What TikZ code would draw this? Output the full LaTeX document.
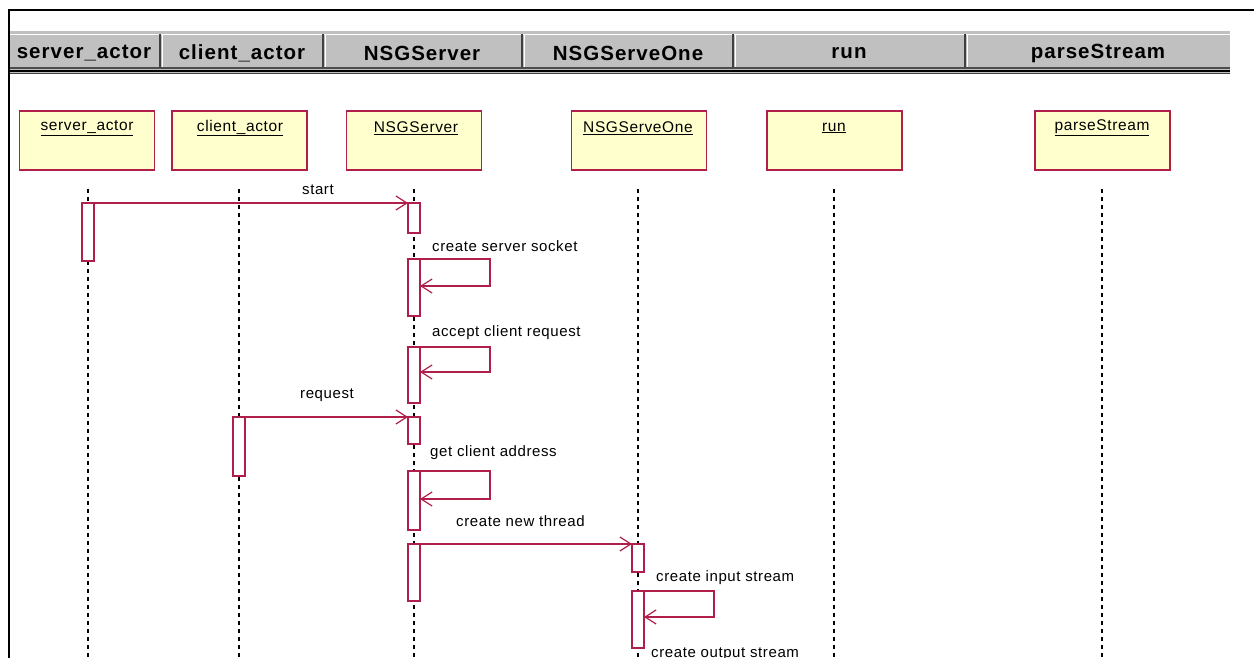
\documentclass[tikz,border=0pt]{standalone}
\usepackage{fontspec}
\setmainfont{Liberation Sans}
\newfontfamily\hdrfont[LetterSpace=5]{Liberation Sans}
\newfontfamily\lblfont[LetterSpace=4]{Liberation Sans}
\usetikzlibrary{arrows.meta}
\definecolor{crim}{RGB}{176,30,74}
\definecolor{boxfill}{RGB}{255,255,206}
\definecolor{hdrgray}{RGB}{192,192,192}
\tikzset{
  objbox/.style={draw=crim, line width=1.5pt, fill=boxfill, minimum width=135pt, minimum height=59pt, inner sep=0pt, outer sep=0pt},
  objlbl/.style={font=\lblfont\fontsize{15.5}{17}\selectfont, inner sep=0pt},
  hdrlbl/.style={font=\hdrfont\bfseries\fontsize{20.5}{24}\selectfont, inner sep=0pt},
  lifeline/.style={draw=black, line width=1.5pt, dash pattern=on 4pt off 4pt},
  act/.style={draw=crim, line width=1.3pt, fill=white, minimum width=12pt, inner sep=0pt, outer sep=0pt, anchor=north},
  msg/.style={draw=crim, line width=1.2pt, -{Straight Barb[length=11pt,width=14pt,line width=1.2pt]}},
  lbl/.style={font=\lblfont\fontsize{15}{17}\selectfont, inner sep=0pt, anchor=west},
}
\begin{document}
\begin{tikzpicture}[x=1pt,y=-1pt]
\useasboundingbox (0,0) rectangle (1254,658);
\clip (0,0) rectangle (1254,658);
\fill[white] (0,0) rectangle (1254,658);
% frame
\draw[line width=2.2pt] (9,658) -- (9,10) -- (1254,10);
% header bar
\fill[hdrgray] (10,31) rectangle (1230,74);
\draw[white, line width=1pt] (10,35) -- (1230,35);
\draw[gray!60!black, line width=1.5pt] (10,68) -- (1230,68);
\draw[black, line width=2pt] (10,71) -- (1230,71);
\draw[gray!50!black, line width=1pt] (10,73.5) -- (1230,73.5);
\foreach \xd in {160,323,522,733,965}{
  \draw[black!75, line width=1.3pt] (\xd,34) -- (\xd,67);
  \draw[white, line width=1pt] (\xd+2,35) -- (\xd+2,67);
}
\node[hdrlbl] (h1) at (84,53) {server\_actor};
\node[hdrlbl] (h2) at (242,53) {client\_actor};
\node[hdrlbl] (h3) at (422,53) {NSGServer};
\node[hdrlbl] (h4) at (628,53) {NSGServeOne};
\node[hdrlbl] (h5) at (849,53) {run};
\node[hdrlbl] (h6) at (1098,53) {parseStream};
% object boxes
\node[objbox] (o1) at (87,140.5) {};
\node[objbox] (o2) at (239.5,140.5) {};
\node[objbox] (o3) at (414,140.5) {};
\node[objbox] (o4) at (639,140.5) {};
\node[objbox] (o5) at (834.5,140.5) {};
\node[objbox] (o6) at (1102.5,140.5) {};
\node[objlbl] (l1) at (87,128) {\underline{server\_actor}};
\node[objlbl] (l2) at (240,128) {\underline{client\_actor}};
\node[objlbl] (l3) at (416,128) {\underline{NSGServer}};
\node[objlbl] (l4) at (638,128) {\underline{NSGServeOne}};
\node[objlbl] (l5) at (834,128) {\underline{run}};
\node[objlbl] (l6) at (1102,128) {\underline{parseStream}};
% lifelines
\coordinate (e1) at (88,660);
\coordinate (e2) at (239,660);
\coordinate (e3) at (414,660);
\coordinate (e4) at (638,660);
\coordinate (e5) at (834,660);
\coordinate (e6) at (1102,660);
\foreach \i/\xl in {1/88,2/239,3/414,4/638,5/834,6/1102}{
  \coordinate (s\i) at (\xl,189);
  \draw[lifeline] (s\i) -- (e\i);
}
% activations
\node[act, minimum height=58pt] (a1) at (88,203) {};
\node[act, minimum height=59pt] (b1) at (239,417) {};
\node[act, minimum height=30pt] (n1) at (414,203) {};
\node[act, minimum height=57pt] (n2) at (414,259) {};
\node[act, minimum height=56pt] (n3) at (414,347) {};
\node[act, minimum height=27pt] (n4) at (414,417) {};
\node[act, minimum height=59pt] (n5) at (414,471) {};
\node[act, minimum height=57pt] (n6) at (414,544) {};
\node[act, minimum height=28pt] (m1) at (638,544) {};
\node[act, minimum height=57pt] (m2) at (638,591) {};
% messages
\draw[msg] (a1.north east) -- (n1.north west);
\draw[msg] (b1.north east) -- (n4.north west);
\draw[msg] (n6.north east) -- (m1.north west);
\draw[msg] (n2.north east) -- (490,259) -- (490,286) -- (n2.north east |- 0,286);
\draw[msg] (n3.north east) -- (490,347) -- (490,372) -- (n3.north east |- 0,372);
\draw[msg] (n5.north east) -- (490,471) -- (490,499) -- (n5.north east |- 0,499);
\draw[msg] (m2.north east) -- (714,591) -- (714,617) -- (m2.north east |- 0,617);
% labels
\node[lbl] (t1) at (302,190) {start};
\node[lbl] (t2) at (432,246) {create server socket};
\node[lbl] (t3) at (432,333) {accept client request};
\node[lbl] (t4) at (300,395) {request};
\node[lbl] (t5) at (430,453) {get client address};
\node[lbl] (t6) at (456,521) {create new thread};
\node[lbl] (t7) at (656,578) {create input stream};
\node[lbl] (t8) at (651,654) {create output stream};
\end{tikzpicture}
\end{document}
